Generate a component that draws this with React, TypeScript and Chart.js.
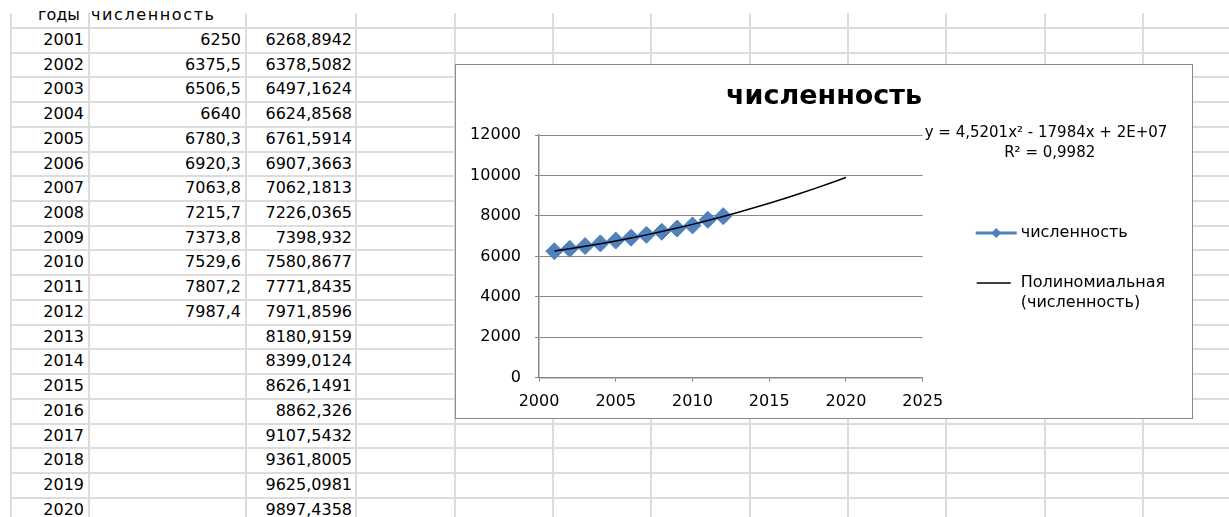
import React, { useEffect, useRef } from "react";
import { Chart, registerables } from "chart.js";

Chart.register(...registerables);

// ---------- data ----------
const years = [2001, 2002, 2003, 2004, 2005, 2006, 2007, 2008, 2009, 2010, 2011, 2012, 2013, 2014, 2015, 2016, 2017, 2018, 2019, 2020];
const population = [6250, 6375.5, 6506.5, 6640, 6780.3, 6920.3, 7063.8, 7215.7, 7373.8, 7529.6, 7807.2, 7987.4];
const trendValues = [6268.8942, 6378.5082, 6497.1624, 6624.8568, 6761.5914, 6907.3663, 7062.1813, 7226.0365, 7398.932, 7580.8677, 7771.8435, 7971.8596, 8180.9159, 8399.0124, 8626.1491, 8862.326, 9107.5432, 9361.8005, 9625.0981, 9897.4358];
const headerYears = "годы";
const headerPopulation = "численность";
const chartTitle = "численность";
const seriesLabel = "численность";
const trendLabelLines = ["Полиномиальная", "(численность)"];
const equationText = "y = 4,5201x² - 17984x + 2E+07";
const rSquaredText = "R² = 0,9982";
const yAxisMin = 0;
const yAxisMax = 12000;
const yAxisStep = 2000;
const xAxisMin = 2000;
const xAxisMax = 2025;
const xAxisStep = 5;

// ---------- sheet layout ----------
const ROW_H = 24.72;
const FIRST_LINE = 28;
const COL_LINES = [11, 89, 246, 356, 455, 553, 651, 750, 848, 946, 1045, 1143];
const GRID_COLOR = "#dcdcdc";
const FONT = "'DejaVu Sans', sans-serif";

const fmt = (v: number) => String(v).replace(".", ",");

const BLUE = "#4F81BD";
const AXIS_GRAY = "#878787";

const overlayPlugin = {
  id: "excelOverlay",
  afterDraw(chart: any) {
    const ctx = chart.ctx as CanvasRenderingContext2D;
    const area = chart.chartArea;
    ctx.save();
    ctx.fillStyle = "#000";
    ctx.textBaseline = "middle";
    // trendline equation
    ctx.font = `15px ${FONT}`;
    ctx.textAlign = "left";
    ctx.fillText(equationText, area.right + 2, area.top - 2);
    ctx.textAlign = "center";
    ctx.fillText(rSquaredText, area.right + 127, area.top + 18);

    // legend
    const lx = area.right + 53;
    const tx = area.right + 98;
    const y1 = area.top + 98;
    const y2 = area.top + 148;
    ctx.strokeStyle = BLUE;
    ctx.lineWidth = 3;
    ctx.beginPath();
    ctx.moveTo(lx, y1);
    ctx.lineTo(lx + 41, y1);
    ctx.stroke();
    ctx.fillStyle = BLUE;
    const cx = lx + 20.5;
    const r = 5;
    ctx.beginPath();
    ctx.moveTo(cx, y1 - r);
    ctx.lineTo(cx + r, y1);
    ctx.lineTo(cx, y1 + r);
    ctx.lineTo(cx - r, y1);
    ctx.closePath();
    ctx.fill();

    ctx.strokeStyle = "#000";
    ctx.lineWidth = 1.5;
    ctx.beginPath();
    ctx.moveTo(lx + 1, y2);
    ctx.lineTo(lx + 35, y2);
    ctx.stroke();

    ctx.fillStyle = "#000";
    ctx.font = `16px ${FONT}`;
    ctx.textAlign = "left";
    ctx.fillText(seriesLabel, tx, y1);
    ctx.fillText(trendLabelLines[0], tx, y2);
    ctx.fillText(trendLabelLines[1], tx, y2 + 20);
    ctx.restore();
  },
};

function ExcelChart() {
  const ref = useRef<HTMLCanvasElement | null>(null);
  useEffect(() => {
    if (!ref.current) return;
    const chart = new Chart(ref.current, {
      type: "scatter",
      data: {
        datasets: [
          {
            label: "Полиномиальная (численность)",
            data: years.map((x, i) => ({ x, y: trendValues[i] })),
            showLine: true,
            borderColor: "#000",
            borderWidth: 1.5,
            pointRadius: 0,
            pointHoverRadius: 0,
            xAxisID: "x",
            yAxisID: "y",
            order: 0,
          },
          {
            label: seriesLabel,
            data: population.map((y, i) => ({ x: years[i], y })),
            showLine: true,
            borderColor: BLUE,
            borderWidth: 2.5,
            pointStyle: "rectRot",
            pointRadius: 8.5,
            pointBackgroundColor: BLUE,
            pointBorderColor: BLUE,
            pointBorderWidth: 1,
            xAxisID: "x",
            yAxisID: "y",
            order: 1,
          },
        ],
      },
      options: {
        animation: false,
        responsive: false,
        devicePixelRatio: 1,
        layout: { padding: 0 },
        font: { family: FONT },
        plugins: {
          legend: { display: false },
          tooltip: { enabled: false },
          title: {
            display: true,
            text: chartTitle,
            color: "#000",
            font: { family: FONT, size: 27, weight: "bold", lineHeight: 1.2 },
            padding: { top: 15.8, bottom: 21.8 },
          },
        },
        scales: {
          x: {
            type: "linear",
            position: "bottom",
            min: xAxisMin,
            max: xAxisMax,
            afterFit: (s: any) => {
              s.height = 40.3;
            },
            ticks: {
              stepSize: xAxisStep,
              color: "#000",
              font: { family: FONT, size: 16 },
              padding: 11,
              maxRotation: 0,
              callback: (v: any) => String(v),
            },
            grid: {
              display: true,
              drawOnChartArea: false,
              drawTicks: true,
              tickLength: 4,
              color: AXIS_GRAY,
            },
            border: { display: true, color: AXIS_GRAY, width: 1.5 },
          },
          y: {
            type: "linear",
            position: "left",
            min: yAxisMin,
            max: yAxisMax,
            afterFit: (s: any) => {
              s.width = 83;
            },
            ticks: {
              stepSize: yAxisStep,
              color: "#000",
              font: { family: FONT, size: 16 },
              padding: 14,
              callback: (v: any) => String(v),
            },
            grid: {
              color: AXIS_GRAY,
              lineWidth: 1,
              drawTicks: true,
              tickLength: 4,
            },
            border: { display: true, color: AXIS_GRAY, width: 1.5 },
          },
          yRight: {
            type: "linear",
            position: "right",
            display: true,
            afterFit: (s: any) => {
              s.width = 269.3;
            },
            ticks: { display: false },
            grid: { display: false, drawTicks: false },
            border: { display: false },
          },
        },
      },
      plugins: [overlayPlugin],
    } as any);
    return () => chart.destroy();
  }, []);
  return (
    <canvas
      ref={ref}
      width={736}
      height={353}
      style={{ width: 736, height: 353, display: "block" }}
    />
  );
}

export default function App() {
  const rowCount = years.length + 1;
  const lines: React.ReactNode[] = [];
  for (let i = 0; i < rowCount; i++) {
    const y = FIRST_LINE + ROW_H * i;
    lines.push(
      <div
        key={"h" + i}
        style={{ position: "absolute", left: COL_LINES[0], right: 0, top: y - 1, height: 2, background: GRID_COLOR }}
      />
    );
  }
  COL_LINES.forEach((x, i) =>
    lines.push(
      <div
        key={"v" + i}
        style={{ position: "absolute", left: x - 1, width: 2, top: 13, bottom: 0, background: GRID_COLOR }}
      />
    )
  );

  const cellStyle = (left: number, width: number, rowIdx: number, align: "left" | "right", pad: number): React.CSSProperties => ({
    position: "absolute",
    left,
    width,
    top: FIRST_LINE + ROW_H * (rowIdx - 1),
    height: ROW_H,
    lineHeight: ROW_H + "px",
    textAlign: align,
    boxSizing: "border-box",
    paddingRight: align === "right" ? pad : 0,
    paddingLeft: align === "left" ? pad : 0,
    whiteSpace: "nowrap",
    overflow: "visible",
  });

  const cells: React.ReactNode[] = [];
  cells.push(
    <div key="hA" style={cellStyle(11, 78, 0, "right", 9)}>
      {headerYears}
    </div>
  );
  cells.push(
    <div key="hB" style={{ ...cellStyle(89, 157, 0, "left", 2), letterSpacing: 1.6 }}>
      {headerPopulation}
    </div>
  );
  years.forEach((yr, i) => {
    const r = i + 1;
    cells.push(
      <div key={"a" + i} style={cellStyle(11, 78, r, "right", 5)}>
        {yr}
      </div>
    );
    if (i < population.length) {
      cells.push(
        <div key={"b" + i} style={cellStyle(89, 157, r, "right", 5)}>
          {fmt(population[i])}
        </div>
      );
    }
    cells.push(
      <div key={"c" + i} style={cellStyle(246, 110, r, "right", 4)}>
        {fmt(trendValues[i])}
      </div>
    );
  });

  return (
    <div
      style={{
        position: "absolute",
        left: 0,
        top: 0,
        width: 1229,
        height: 517,
        overflow: "hidden",
        background: "#fff",
        fontFamily: FONT,
        fontSize: 16,
        color: "#000",
      }}
    >
      {lines}
      {cells}
      <div
        style={{
          position: "absolute",
          left: 455,
          top: 64,
          width: 736,
          height: 353,
          border: "1px solid #8a8a8a",
          background: "#fff",
        }}
      >
        <ExcelChart />
      </div>
    </div>
  );
}
